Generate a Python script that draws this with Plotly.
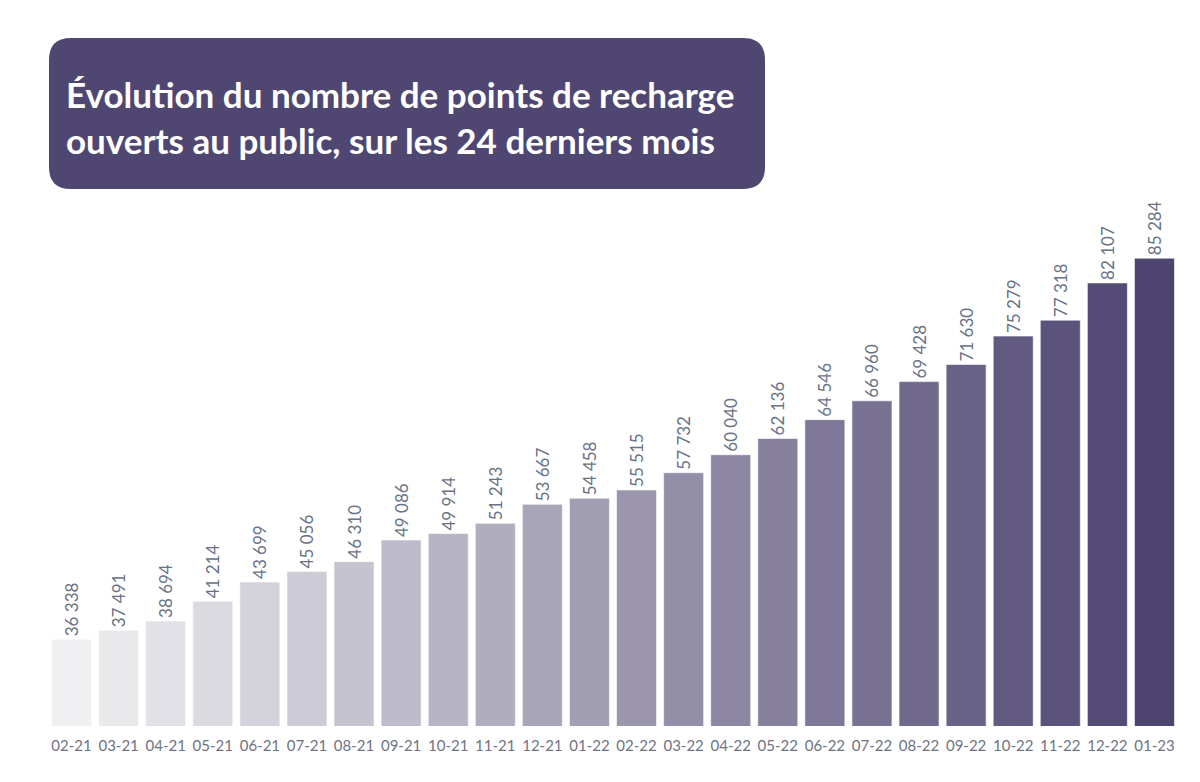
import plotly.graph_objects as go

months = ["02-21", "03-21", "04-21", "05-21", "06-21", "07-21", "08-21", "09-21",
          "10-21", "11-21", "12-21", "01-22", "02-22", "03-22", "04-22", "05-22",
          "06-22", "07-22", "08-22", "09-22", "10-22", "11-22", "12-22", "01-23"]
points = [36338, 37491, 38694, 41214, 43699, 45056, 46310, 49086,
          49914, 51243, 53667, 54458, 55515, 57732, 60040, 62136,
          64546, 66960, 69428, 71630, 75279, 77318, 82107, 85284]
title_lines = ["Évolution du nombre de points de recharge",
               "ouverts au public, sur les 24 derniers mois"]

# page body has an 8px margin -> figure is 1184x766, coords = reference - 8
OFF = 8
W, H = 1184, 766
ML, MR, MT, MB = 40, 14, 222, 48
PW, PH = W - ML - MR, H - MT - MB

# colour ramp (style): light grey -> dark purple
c0 = (240, 240, 242)
c1 = (77, 68, 112)
n = len(months)
colors = []
for i in range(n):
    t = i / (n - 1)
    rgb = tuple(round(a + (b - a) * t) for a, b in zip(c0, c1))
    colors.append("rgb(%d,%d,%d)" % rgb)

labels = [f"{v:,}".replace(",", " ") for v in points]

fig = go.Figure(go.Bar(
    x=months, y=points,
    marker=dict(color=colors, line=dict(color="rgba(255,255,255,0.6)", width=1)),
    text=labels, textposition="outside", textangle=-90, constraintext="none",
    textfont=dict(family="Lato", size=17, color="#6a7285"),
    cliponaxis=False,
))

def px2paper(x, y):
    x -= OFF
    y -= OFF
    return (x - ML) / PW, (H - MB - y) / PH

# rounded rectangle title box (reference pixel coords)
x0, y0, x1, y1, r = 49, 38, 765, 189, 22
def P(x, y):
    a, b = px2paper(x, y)
    return f"{a:.5f},{b:.5f}"
path = (f"M {P(x0 + r, y0)} L {P(x1 - r, y0)} Q {P(x1, y0)} {P(x1, y0 + r)} "
        f"L {P(x1, y1 - r)} Q {P(x1, y1)} {P(x1 - r, y1)} "
        f"L {P(x0 + r, y1)} Q {P(x0, y1)} {P(x0, y1 - r)} "
        f"L {P(x0, y0 + r)} Q {P(x0, y0)} {P(x0 + r, y0)} Z")

tx, ty = px2paper(64, 117)
fig.update_layout(
    width=W, height=H,
    margin=dict(l=ML, r=MR, t=MT, b=MB),
    plot_bgcolor="white", paper_bgcolor="white",
    bargap=0.15,
    showlegend=False,
    xaxis=dict(showgrid=False, showline=False, ticks="outside", ticklen=6,
               tickcolor="rgba(0,0,0,0)",
               tickfont=dict(family="Lato", size=15, color="#6e7282")),
    yaxis=dict(visible=False, range=[25200, 88900]),
    shapes=[dict(type="path", xref="paper", yref="paper", path=path,
                 fillcolor="#4f4772", line=dict(width=0), layer="above")],
    annotations=[dict(xref="paper", yref="paper", x=tx, y=ty, xanchor="left",
                      yanchor="middle", align="left", showarrow=False,
                      text="<b>" + "<br>".join(title_lines) + "</b>",
                      font=dict(family="Lato", size=35, color="white"))],
)

fig.write_html("out.html")
